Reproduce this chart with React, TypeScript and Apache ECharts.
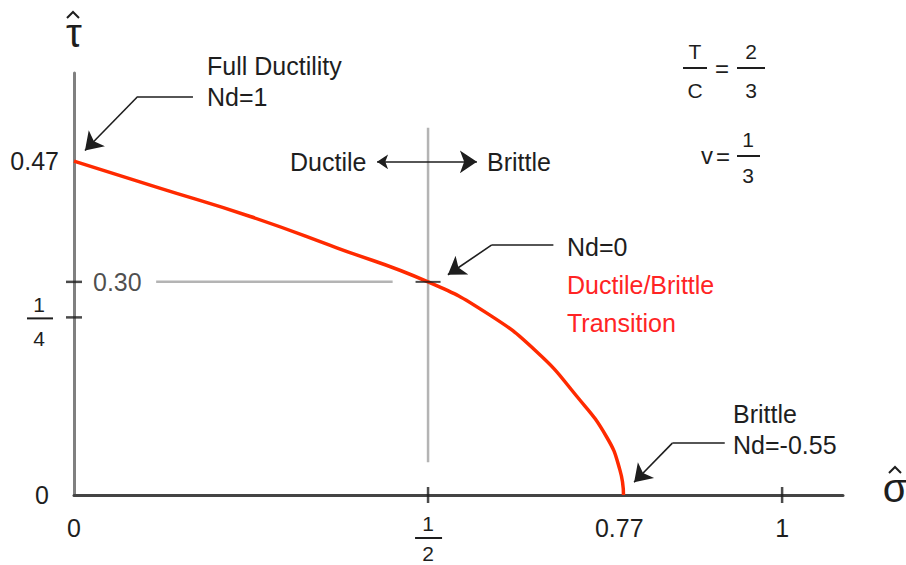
import React, { useEffect, useRef } from 'react';
import * as echarts from 'echarts';

// Failure curve (sigma-hat, tau-hat)
const curveX = [0, 0.121, 0.249, 0.371, 0.5, 0.583, 0.653, 0.71, 0.752, 0.771, 0.776];
const curveY = [0.47, 0.432, 0.392, 0.348, 0.3, 0.256, 0.202, 0.139, 0.082, 0.035, 0];

// axis values
const xLabelValues = [0, 0.77, 1];
const xTickValues = [0.5, 1];
const yLabelValues = [0, 0.47];
const yTickValues = [0.3, 0.25];
const transitionPoint = [0.5, 0.3];

// guide lines
const vGuide = [[0.5, 0.046], [0.5, 0.517]];
const hGuide = [[0.116, 0.3], [0.45, 0.3]];

// annotation arrows: horizontal leader then pointer
const leaders = [
  [[0.168, 0.561], [0.09, 0.561]],
  [[0.677, 0.352], [0.59, 0.352]],
  [[0.919, 0.073], [0.845, 0.073]],
];
const pointers = [
  [[0.09, 0.561], [0.0155, 0.485]],
  [[0.59, 0.352], [0.528, 0.31]],
  [[0.845, 0.073], [0.791, 0.018]],
];
const ductBrittleArrow = [[0.428, 0.469], [0.569, 0.469]];

const FONT = 'Liberation Sans, Arial, Helvetica, sans-serif';
const INK = '#1e1e1e';
const RED_TEXT = '#ff2424';
const FS = 25;
const FFS = 21;

function txt(text: string, x: number, y: number, opts: any = {}) {
  return {
    type: 'text',
    x,
    y,
    silent: true,
    style: {
      text,
      fontSize: opts.fontSize ?? FS,
      fontFamily: FONT,
      fill: opts.fill ?? INK,
      align: opts.align ?? 'left',
      verticalAlign: 'middle',
    },
  };
}
function seg(x1: number, y1: number, x2: number, y2: number, w = 2) {
  return { type: 'line', silent: true, shape: { x1, y1, x2, y2 }, style: { stroke: INK, lineWidth: w } };
}
function hat(cx: number, cy: number) {
  return {
    type: 'polyline',
    silent: true,
    shape: { points: [[cx - 6, cy + 3], [cx, cy - 3], [cx + 6, cy + 3]] },
    style: { stroke: INK, lineWidth: 2, fill: 'none' },
  };
}

export default function App() {
  const ref = useRef<HTMLDivElement>(null);
  useEffect(() => {
    if (!ref.current) return;
    const chart = echarts.init(ref.current, undefined, { renderer: 'svg' });
    const option: any = {
      animation: false,
      backgroundColor: '#ffffff',
      grid: { left: 74, right: 63, top: 73, bottom: 70, outerBoundsMode: 'none' },
      xAxis: {
        type: 'value',
        min: 0,
        max: 1.086,
        splitLine: { show: false },
        axisTick: { show: false },
        axisLine: { show: true, lineStyle: { color: '#444', width: 3 } },
        axisLabel: {
          customValues: xLabelValues,
          margin: 20,
          fontSize: FS,
          fontFamily: FONT,
          color: INK,
          formatter: (v: number) => String(v),
        },
      },
      yAxis: {
        type: 'value',
        min: 0,
        max: 0.594,
        splitLine: { show: false },
        axisTick: { show: false },
        axisLine: { show: true, lineStyle: { color: '#808080', width: 3 } },
        axisLabel: {
          customValues: yLabelValues,
          margin: 15,
          fontSize: FS,
          fontFamily: FONT,
          color: INK,
          formatter: (v: number) => (v === 0 ? '{p|0}' : String(v)),
          rich: { p: { fontSize: FS, fontFamily: FONT, color: INK, padding: [0, 10, 0, 0] } },
        },
      },
      series: [
        {
          type: 'line',
          data: [vGuide[0], vGuide[1]],
          showSymbol: false,
          lineStyle: { color: '#b4b4b4', width: 2.5 },
          silent: true,
          z: 1,
        },
        {
          type: 'line',
          data: [hGuide[0], hGuide[1]],
          showSymbol: false,
          lineStyle: { color: '#b4b4b4', width: 2.5 },
          silent: true,
          z: 1,
        },
        {
          type: 'line',
          data: curveX.map((x, i) => [x, curveY[i]]),
          smooth: 0.5,
          showSymbol: false,
          lineStyle: { color: '#ff2a00', width: 3.5 },
          silent: true,
          z: 3,
        },
        {
          type: 'scatter',
          symbol: 'rect',
          symbolSize: [16, 2.5],
          itemStyle: { color: INK },
          silent: true,
          z: 4,
          data: yTickValues.map((v, i) => ({
            value: [0, v],
            label:
              i === 0
                ? { show: true, position: 'right', distance: 11, formatter: '0.30', fontSize: FS, fontFamily: FONT, color: INK }
                : { show: false },
          })),
        },
        {
          type: 'scatter',
          symbol: 'rect',
          symbolSize: [2.5, 16],
          itemStyle: { color: INK },
          silent: true,
          z: 4,
          data: xTickValues.map((v) => [v, 0]),
        },
        {
          type: 'scatter',
          symbol: 'rect',
          symbolSize: [25, 2],
          itemStyle: { color: INK },
          silent: true,
          z: 4,
          data: [transitionPoint],
        },
        {
          type: 'lines',
          coordinateSystem: 'cartesian2d',
          symbol: 'none',
          lineStyle: { color: INK, width: 1.6, opacity: 1 },
          silent: true,
          z: 5,
          data: leaders.map((c) => ({ coords: c })),
        },
        {
          type: 'lines',
          coordinateSystem: 'cartesian2d',
          symbol: ['none', 'arrow'],
          symbolSize: [11, 17],
          lineStyle: { color: INK, width: 1.6, opacity: 1 },
          itemStyle: { color: INK },
          silent: true,
          z: 5,
          data: pointers.map((c) => ({ coords: c })),
        },
        {
          type: 'lines',
          coordinateSystem: 'cartesian2d',
          symbol: ['arrow', 'arrow'],
          symbolSize: [11, 17],
          lineStyle: { color: INK, width: 1.6, opacity: 1 },
          silent: true,
          z: 5,
          data: [{ coords: ductBrittleArrow }],
        },
      ],
    };
    chart.setOption(option);

    const pHalf = chart.convertToPixel({ gridIndex: 0 }, [0.5, 0]) as number[];
    const pQuarter = chart.convertToPixel({ gridIndex: 0 }, [0, 0.25]) as number[];

    const graphics: any[] = [
      // axis titles
      hat(73, 15),
      txt('τ', 74, 33, { fontSize: 40, align: 'center' }),
      hat(895, 470),
      txt('σ', 895, 488, { fontSize: 40, align: 'center' }),
      // annotations
      txt('Full Ductility', 207, 66),
      txt('Nd=1', 207, 97),
      txt('Ductile', 290, 162),
      txt('Brittle', 487, 162),
      txt('Nd=0', 567, 247),
      txt('Ductile/Brittle', 567, 285, { fill: RED_TEXT }),
      txt('Transition', 567, 323, { fill: RED_TEXT }),
      txt('Brittle', 733, 414),
      txt('Nd=-0.55', 733, 445),
      // T/C = 2/3
      txt('T', 695, 51, { fontSize: FFS, align: 'center' }),
      seg(683, 68, 707, 68),
      txt('C', 695, 90, { fontSize: FFS, align: 'center' }),
      txt('=', 722, 68, { fontSize: 24, align: 'center' }),
      txt('2', 751, 51, { fontSize: FFS, align: 'center' }),
      seg(737, 68, 765, 68),
      txt('3', 751, 90, { fontSize: FFS, align: 'center' }),
      // v = 1/3
      txt('v', 707, 155, { fontSize: 24, align: 'center' }),
      txt('=', 723, 156, { fontSize: 24, align: 'center' }),
      txt('1', 748, 139, { fontSize: FFS, align: 'center' }),
      seg(737, 156, 760, 156),
      txt('3', 748, 175, { fontSize: FFS, align: 'center' }),
      // x tick fraction 1/2
      txt('1', pHalf[0], pHalf[1] + 28, { fontSize: FFS, align: 'center' }),
      seg(pHalf[0] - 13, pHalf[1] + 43, pHalf[0] + 14, pHalf[1] + 43),
      txt('2', pHalf[0], pHalf[1] + 58, { fontSize: FFS, align: 'center' }),
      // y tick fraction 1/4
      txt('1', pQuarter[0] - 35, pQuarter[1] - 13, { fontSize: FFS, align: 'center' }),
      seg(pQuarter[0] - 47, pQuarter[1] + 1, pQuarter[0] - 21, pQuarter[1] + 1),
      txt('4', pQuarter[0] - 35, pQuarter[1] + 21, { fontSize: FFS, align: 'center' }),
    ];
    chart.setOption({ graphic: { elements: graphics } });

    return () => chart.dispose();
  }, []);
  return (
    <div
      ref={ref}
      style={{ position: 'fixed', left: 0, top: 0, width: 906, height: 565, background: '#fff' }}
    />
  );
}
